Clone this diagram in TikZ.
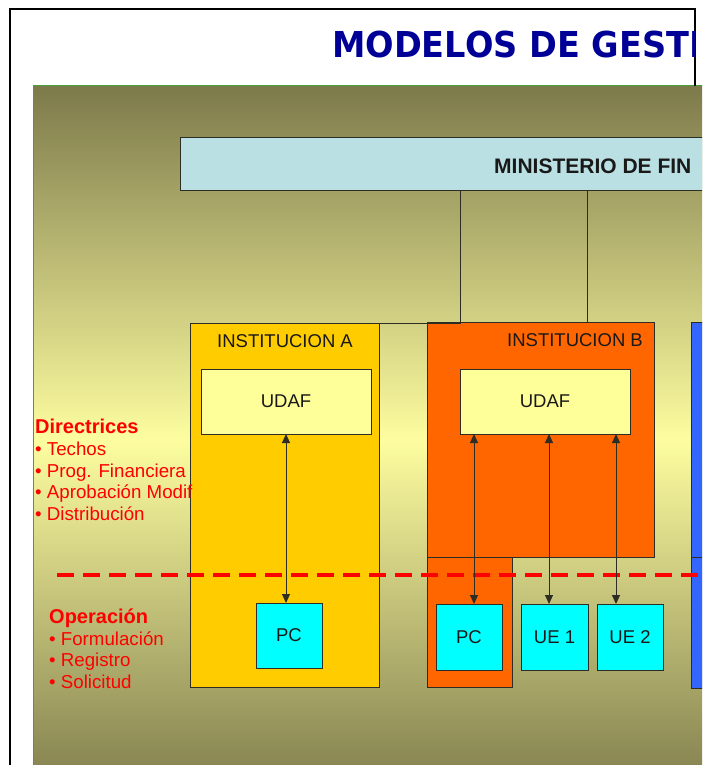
\documentclass[tikz,border=0pt]{standalone}
\usepackage{fontspec}
\setmainfont{Liberation Sans}
\newfontfamily\titlefamily[FakeStretch=0.94]{DejaVu Sans}
\usetikzlibrary{arrows.meta}

\definecolor{panelolive}{RGB}{125,122,75}
\definecolor{paleyellow}{RGB}{253,253,160}
\definecolor{panelgreen}{RGB}{70,160,60}
\definecolor{mfblue}{RGB}{187,224,227}
\definecolor{instAfill}{RGB}{255,204,0}
\definecolor{instBfill}{RGB}{255,102,0}
\definecolor{instCfill}{RGB}{51,102,255}
\definecolor{udaffill}{RGB}{255,255,153}
\definecolor{leaffill}{RGB}{0,255,255}
\definecolor{edgegray}{RGB}{45,45,35}
\definecolor{textblack}{RGB}{25,25,25}
\definecolor{titleblue}{RGB}{0,0,150}
\definecolor{notered}{RGB}{255,0,0}

\newcommand{\titlebig}{\titlefamily\bfseries\fontsize{35.7}{40}\selectfont}
\newcommand{\mfbold}{\bfseries\fontsize{21}{24}\selectfont}
\newcommand{\boxfont}{\fontsize{18.5}{22}\selectfont}
\newcommand{\sidebold}{\bfseries\fontsize{20}{22}\selectfont}
\newcommand{\sidefont}{\fontsize{18.7}{22}\selectfont}

\begin{document}
\begin{tikzpicture}[x=1pt,y=-1pt,
    box/.style={draw=edgegray,line width=1pt,inner sep=0pt,outer sep=0pt,anchor=north west},
    udaf/.style={box,fill=udaffill,minimum width=170pt,minimum height=65pt,font=\boxfont,text=textblack},
    leaf/.style={box,fill=leaffill,minimum width=66pt,minimum height=66pt,font=\boxfont,text=textblack},
    inlabel/.style={anchor=base,inner sep=0pt,font=\boxfont,text=textblack},
    wire/.style={draw=edgegray,line width=1pt},
    link/.style={wire,{Triangle[width=8pt,length=9pt]}-{Triangle[width=8pt,length=9pt]}},
    notehead/.style={anchor=base west,inner sep=0pt,text=notered,font=\sidebold},
    note/.style={anchor=base west,inner sep=0pt,text=notered,font=\sidefont}]

    \useasboundingbox (0,0) rectangle (702,765);
    \clip (0,0) rectangle (702,765);
    \fill[white] (0,0) rectangle (702,765);

    \shade[top color=panelolive,bottom color=paleyellow] (33,86) rectangle (760,440);
    \shade[top color=paleyellow,bottom color=panelolive] (33,440) rectangle (760,800);
    \draw[panelgreen,line width=1pt] (33,800) -- (33,86) -- (760,86);
    \draw[line width=2pt] (695,86) -- (695,9.5) -- (9.5,9.5) -- (9.5,770);

    \begin{scope}
        \clip (0,0) rectangle (694,86);
        \node[anchor=base west,inner sep=0pt,text=titleblue,font=\titlebig] (ttl) at (332,58) {MODELOS DE GESTI};
    \end{scope}

    \node[box,fill=mfblue,minimum width=620pt,minimum height=53pt] (mf) at (180,137) {};
    \node[anchor=base west,inner sep=0pt,font=\mfbold,text=textblack] (mftxt) at (494,173) {MINISTERIO DE FIN};

    \node[box,fill=instAfill,minimum width=189pt,minimum height=364pt] (instA) at (190,323) {};
    \node[inlabel] (instAtxt) at (285,347) {INSTITUCION A};
    \node[udaf] (udafA) at (201,369) {UDAF};
    \node[leaf,minimum height=65pt] (pcA) at (256,603) {PC};

    \node[box,fill=instBfill,minimum width=85pt,minimum height=130pt] (instBlow) at (427,557) {};
    \node[box,fill=instBfill,minimum width=227pt,minimum height=235pt] (instB) at (427,322) {};
    \node[inlabel] (instBtxt) at (575,346) {INSTITUCION B};
    \node[udaf] (udafB) at (460,369) {UDAF};
    \node[leaf] (pcB) at (436,604) {PC};
    \node[leaf,minimum width=67pt] (ueA) at (521,604) {UE 1};
    \node[leaf] (ueB) at (597,604) {UE 2};

    \node[box,fill=instCfill,minimum width=60pt,minimum height=366pt] (instC) at (691,322) {};
    \draw[wire] (instC.west |- instB.south) -- (instC.east |- instB.south);

    \coordinate (tapA) at (460,323);
    \coordinate (tapB) at (587,322);
    \draw[wire] (mf.south -| tapA) -- (tapA) -- (instA.north east);
    \draw[wire] (mf.south -| tapB) -- (tapB);

    \draw[notered,line width=4pt,dash pattern=on 17pt off 9pt] (57,575) -- (710,575);

    \coordinate (colB1) at (474,0);
    \coordinate (colB2) at (549,0);
    \coordinate (colB3) at (616,0);
    \draw[link] (udafA.south) -- (udafA.south |- pcA.north);
    \draw[link] (udafB.south -| colB1) -- (pcB.north -| colB1);
    \draw[link] (udafB.south -| colB2) -- (ueA.north -| colB2);
    \draw[link] (udafB.south -| colB3) -- (ueB.north -| colB3);

    \node[notehead] (dirhead) at (35,433) {Directrices};
    \node[note] (dir1) at (35,455) {• Techos};
    \node[note] (dir2) at (35,477) {• Prog. Financiera};
    \node[note] (dir3) at (35,498.5) {• Aprobación Modif};
    \node[note] (dir4) at (35,520) {• Distribución};

    \node[notehead] (ophead) at (49,623) {Operación};
    \node[note] (op1) at (49,645) {• Formulación};
    \node[note] (op2) at (49,666.5) {• Registro};
    \node[note] (op3) at (49,688) {• Solicitud};
\end{tikzpicture}
\end{document}
